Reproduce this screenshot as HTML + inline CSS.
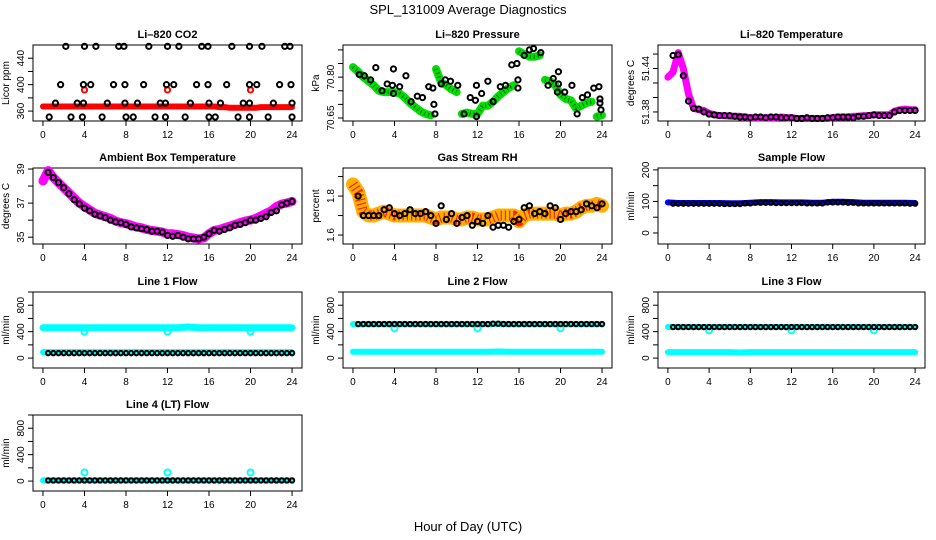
<!DOCTYPE html>
<html><head><meta charset="utf-8">
<style>
html,body{margin:0;padding:0;background:#fff;}
svg{display:block;font-family:"Liberation Sans",sans-serif;}
</style></head>
<body>
<svg id="chart" width="936" height="540" viewBox="0 0 936 540" xmlns="http://www.w3.org/2000/svg">
<text x="468" y="14" text-anchor="middle" font-size="13">SPL_131009  Average Diagnostics</text>
<text x="468" y="531" text-anchor="middle" font-size="13">Hour of Day (UTC)</text>
</svg>
<script>
// ---------- data ----------
const xTicks = [0,4,8,12,16,20,24];
const co2TopH = [2.2,4.0,5.1,7.3,7.8,10.2,12.0,13.1,15.3,15.9,18.2,19.9,21.1,23.3,23.8];
const co2MidH = [1.7,3.9,4.6,6.8,7.9,9.7,11.9,12.6,14.8,15.9,17.7,19.9,20.6,22.8,23.9];
const co2LowH = [1.2,3.3,3.9,6.2,7.9,9.1,11.3,11.8,14.2,16.0,17.1,19.3,19.9,22.2,24.0];
const co2BotH = [0.6,2.7,3.8,5.7,8.0,8.7,10.8,11.8,13.7,16.0,16.6,18.8,19.9,21.7,24.0];
const co2Levels = [458,400,372,351];
const co2Red = [367,367,367,367,367,367,367,367,367,367,367,367,367,367,367,367,367,367,367,367,367,367,367,367,367,367,367,367,367,367,367,367,367,367,366,366,365,365,365,365,365,365,366,366,366,366,366,366,366];
const co2RedOutH = [4,12,20];
const co2RedOutV = [392,392,392];

const presGreen = [70.837,70.82,70.80,70.785,70.77,70.75,70.745,70.745,70.745,70.74,70.725,70.705,70.69,70.675,70.665,70.66,70.83,70.78,70.77,70.755,70.745,70.665,70.67,70.665,70.665,70.695,70.695,70.71,70.73,70.745,70.76,70.77,70.895,70.885,70.875,70.875,70.88,70.79,70.785,70.77,70.735,70.72,70.715,70.685,70.695,70.705,70.71,70.655,70.66];
const presBlackH = [0.6,1.1,1.7,2.2,2.8,3.3,3.8,3.9,3.9,4.5,5.1,5.6,6.2,6.7,7.3,7.7,7.8,7.9,8.5,8.9,9.4,10.1,10.7,11.3,11.8,11.9,11.9,12.4,13.0,13.5,14.2,14.7,15.3,15.8,15.9,15.9,16.5,17.0,17.4,18.1,18.8,19.3,19.7,19.8,19.8,20.4,21.1,21.6,22.1,22.6,23.2,23.7,23.8,23.8,23.9];
const presBlackV = [70.81,70.805,70.79,70.835,70.75,70.775,70.77,70.83,70.74,70.765,70.805,70.71,70.73,70.725,70.765,70.76,70.70,70.665,70.775,70.79,70.785,70.77,70.665,70.725,70.715,70.655,70.77,70.74,70.785,70.71,70.765,70.77,70.845,70.85,70.79,70.76,70.88,70.90,70.905,70.89,70.77,70.795,70.745,70.775,70.82,70.745,70.77,70.665,70.725,70.735,70.76,70.765,70.72,70.705,70.68];

const tempMag = [51.428,51.435,51.462,51.44,51.405,51.385,51.383,51.382,51.378,51.376,51.375,51.375,51.374,51.374,51.374,51.373,51.372,51.372,51.372,51.372,51.372,51.372,51.373,51.372,51.372,51.371,51.371,51.371,51.371,51.371,51.371,51.371,51.372,51.373,51.373,51.373,51.374,51.374,51.375,51.375,51.376,51.376,51.376,51.376,51.381,51.383,51.384,51.383,51.383];
const tempBlack = [51.458,51.459,51.43,51.395,51.385,51.384,51.38,51.377,51.376,51.375,51.375,51.375,51.374,51.373,51.373,51.372,51.373,51.373,51.372,51.373,51.373,51.372,51.372,51.372,51.371,51.371,51.372,51.371,51.371,51.371,51.372,51.372,51.373,51.373,51.373,51.372,51.374,51.374,51.375,51.376,51.375,51.375,51.375,51.380,51.382,51.382,51.382,51.382];

const ambMag = [38.3,38.9,38.5,38.2,37.9,37.6,37.3,37.0,36.8,36.6,36.4,36.3,36.2,36.1,35.95,35.85,35.8,35.7,35.6,35.55,35.45,35.4,35.35,35.3,35.2,35.2,35.15,35.1,35.0,34.95,34.9,34.95,35.2,35.4,35.45,35.55,35.65,35.75,35.85,35.95,36.0,36.1,36.25,36.4,36.55,36.8,36.95,37.0,37.1];
const ambBlack = [38.8,38.5,38.2,37.9,37.55,37.2,36.95,36.7,36.55,36.35,36.25,36.15,36.0,35.9,35.85,35.75,35.6,35.55,35.5,35.45,35.35,35.35,35.3,35.1,35.05,35.1,35.0,34.9,34.9,34.9,35.0,35.2,35.4,35.35,35.45,35.55,35.7,35.75,35.85,36.0,36.0,36.1,36.2,36.45,36.55,36.9,37.0,37.1];

const rhBand = [1.86,1.82,1.72,1.70,1.70,1.71,1.72,1.71,1.70,1.70,1.70,1.70,1.70,1.70,1.70,1.69,1.68,1.69,1.69,1.69,1.68,1.68,1.69,1.69,1.68,1.68,1.68,1.69,1.70,1.70,1.70,1.70,1.67,1.70,1.71,1.71,1.71,1.71,1.71,1.71,1.70,1.71,1.71,1.72,1.74,1.75,1.75,1.76,1.75];
const rhBlack = [1.80,1.70,1.70,1.70,1.70,1.73,1.74,1.71,1.70,1.71,1.73,1.71,1.71,1.72,1.70,1.66,1.75,1.68,1.71,1.66,1.69,1.70,1.65,1.67,1.66,1.70,1.64,1.65,1.65,1.64,1.67,1.68,1.74,1.75,1.71,1.72,1.71,1.75,1.74,1.68,1.71,1.72,1.72,1.73,1.76,1.75,1.74,1.76];

const sampBlue = [97,95,95,95,95,95,94,94,96,98,98,97,97,97,96,96,99,99,98,96,96,96,96,96,95];
const sampBlack = [95,93,93,93,93,93,92,92,94,96,96,95,95,95,94,94,97,97,96,94,94,94,94,94,93];

const l1CyanTop = [460,460,460,460,460,460,460,460,460,460,460,460,460,460,470,460,460,460,460,460,460,460,460,460,460];
const l1CyanLow = [90,90,90,90,90,90,90,90,90,90,90,90,90,90,90,90,90,90,90,90,90,90,90,90,90];
const l1Black = [75,75,75,75,75,75,75,75,75,75,75,75,75,75,75,75,75,75,75,75,75,75,75,75,75];
const l2Black = [515,515,515,515,515,515,515,515,515,515,515,515,515,515,520,515,515,515,515,515,515,515,515,515,515];
const l2CyanLow = [95,95,95,95,95,95,95,95,95,95,95,95,95,95,100,95,95,95,95,95,95,95,95,95,95];
const l3Black = [470,470,470,470,470,470,470,470,470,470,470,470,470,470,470,470,470,470,470,470,470,470,470,470,470];
const l3CyanLow = [90,90,90,90,90,90,90,85,90,90,90,90,90,90,90,90,90,90,90,90,90,90,90,90,90];
const l4Black = [10,10,10,10,10,10,10,10,10,10,10,10,10,10,10,10,10,10,10,10,10,10,10,10,10];
const l4Cyan = [10,10,10,10,10,10,10,10,10,10,10,10,10,10,10,10,10,10,10,10,10,10,10,10,10];
const outH = [4,12,20];
const l1Out = [400,400,400];
const l2Out = [450,450,450];
const l3Out = [420,420,420];
const l4Out = [130,130,130];

// ---------- layout ----------
const svg = document.getElementById('chart');
const NS = 'http://www.w3.org/2000/svg';
const colX = [33,343,658], colW = [269,269,267];
const rowY = [45,168,292,415], boxH = 76;
const H49 = []; for (let i=0;i<=48;i++) H49.push(i*0.5);
const H48 = H49.slice(1);
const H25 = []; for (let i=0;i<=24;i++) H25.push(i);

function mk(tag, attrs, parent){
  const e = document.createElementNS(NS, tag);
  for (const k in attrs) e.setAttribute(k, attrs[k]);
  parent.appendChild(e);
  return e;
}

function makePanel(cfg){
  const bx = colX[cfg.col], by = rowY[cfg.row], bw = colW[cfg.col];
  const g = mk('g', {}, svg);
  
  
  const xs = h => bx + (h + 0.96) / 25.92 * bw;
  const ys = v => by + boxH - (v - cfg.ymin) / (cfg.ymax - cfg.ymin) * boxH;
  const t = mk('text', {x: bx + bw/2, y: by - 7, 'text-anchor':'middle', 'font-size':11, 'font-weight':'bold'}, g);
  t.textContent = cfg.title;
  
  
  const yl = mk('text', {transform:`translate(${bx-24},${by+boxH/2}) rotate(-90)`, 'text-anchor':'middle', 'font-size':10}, g);
  yl.textContent = cfg.ylab;
  
  
  const xa = mk('g', {}, g);
  
  
  mk('line', {x1: xs(0), x2: xs(24), y1: by+boxH, y2: by+boxH, stroke:'#000'}, xa);
  xTicks.forEach(v => {
    mk('line', {x1: xs(v), x2: xs(v), y1: by+boxH, y2: by+boxH+5, stroke:'#000'}, xa);
    const tl = mk('text', {x: xs(v), y: by+boxH+17, 'text-anchor':'middle', 'font-size':10}, xa);
    tl.textContent = v;
    
    
  });
  const ya = mk('g', {}, g);
  
  
  mk('line', {x1: bx, x2: bx, y1: ys(cfg.yticks[0]), y2: ys(cfg.yticks[cfg.yticks.length-1]), stroke:'#000'}, ya);
  cfg.yticks.forEach(v => {
    mk('line', {x1: bx-5, x2: bx, y1: ys(v), y2: ys(v), stroke:'#000'}, ya);
  });
  cfg.ylabels.forEach((v,i) => {
    const tl = mk('text', {transform:`translate(${bx-9},${ys(v)}) rotate(-90)`, 'text-anchor':'middle', 'font-size':10}, ya);
    tl.textContent = cfg.ylabelText[i];
    
    
  });
  const plot = mk('g', {}, g);
  
  
  mk('rect', {x: bx, y: by, width: bw, height: boxH, fill:'none', stroke:'#000'}, plot);
  return {g: plot, xs, ys};
}

function band(p, hs, vs, color, w, name){
  const pts = hs.map((h,i) => p.xs(h).toFixed(1) + ',' + p.ys(vs[i]).toFixed(1)).join(' ');
  const el = mk('polyline', {points: pts, fill:'none', stroke: color, 'stroke-width': w, 'stroke-linejoin':'round', 'stroke-linecap':'round'}, p.g);
  
  
  return el;
}
function pts(p, hs, vs, color, name, r, sw){
  hs.forEach((h,i) => {
    const c = mk('circle', {cx: p.xs(h), cy: p.ys(vs[i]), r: r || 2.6, fill:'none', stroke: color, 'stroke-width': sw || 2}, p.g);
    
    
  });
}
function bandSeg(p, hs, vs, color, w, name, breaks, dash){
  let segH = [], segV = [];
  const flush = () => {
    const e = band(p, segH, segV, color, w, name);
    if (dash) { e.setAttribute('stroke-dasharray', dash); e.setAttribute('stroke-linecap', 'butt'); }
  };
  hs.forEach((h,i) => {
    if (breaks.indexOf(h) >= 0 && segH.length) { flush(); segH = []; segV = []; }
    segH.push(h); segV.push(vs[i]);
  });
  if (segH.length) flush();
}

// CO2
let p = makePanel({id:'co2', title:'Li\u2013820 CO2', col:0, row:0, ymin:345, ymax:460, yticks:[360,380,400,420,440], ylabels:[360,400,440], ylabelText:['360','400','440'], ylab:'Licor ppm'});
band(p, H49, co2Red, '#ff0000', 6, 'co2-red-series');
pts(p, co2RedOutH, co2RedOutV, '#ff0000', 'co2-red-point');
pts(p, co2TopH, co2TopH.map(() => co2Levels[0]), '#000', 'co2-black-point');
pts(p, co2MidH, co2MidH.map(() => co2Levels[1]), '#000', 'co2-black-point');
pts(p, co2LowH, co2LowH.map(() => co2Levels[2]), '#000', 'co2-black-point');
pts(p, co2BotH, co2BotH.map(() => co2Levels[3]), '#000', 'co2-black-point');

// Pressure
p = makePanel({id:'pressure', title:'Li\u2013820 Pressure', col:1, row:0, ymin:70.639, ymax:70.918, yticks:[70.65,70.70,70.75,70.80,70.85,70.90], ylabels:[70.65,70.80], ylabelText:['70.65','70.80'], ylab:'kPa'});
bandSeg(p, H49, presGreen, '#00dd00', 8, 'pressure-green-series', [8,10.5,16,18.5,23.5]);
bandSeg(p, H49, presGreen, '#006600', 4, 'pressure-green-speckle', [8,10.5,16,18.5,23.5], '1 3');
pts(p, presBlackH, presBlackV, '#000', 'pressure-black-point');

// Li-820 temperature
p = makePanel({id:'li820-temp', title:'Li\u2013820 Temperature', col:2, row:0, ymin:51.3675, ymax:51.4725, yticks:[51.38,51.40,51.42,51.44,51.46], ylabels:[51.38,51.44], ylabelText:['51.38','51.44'], ylab:'degrees C'});
band(p, H49, tempMag, '#ff00ff', 7, 'li820-temp-magenta-series');
pts(p, H48, tempBlack, '#000', 'li820-temp-black-point');

// Ambient
p = makePanel({id:'ambient', title:'Ambient Box Temperature', col:0, row:1, ymin:34.6, ymax:39.06, yticks:[35,36,37,38,39], ylabels:[35,37,39], ylabelText:['35','37','39'], ylab:'degrees C'});
band(p, H49, ambMag, '#ff00ff', 9, 'ambient-magenta-series');
pts(p, H48, ambBlack, '#000', 'ambient-black-point');

// RH
p = makePanel({id:'rh', title:'Gas Stream RH', col:1, row:1, ymin:1.554, ymax:1.944, yticks:[1.6,1.7,1.8,1.9], ylabels:[1.6,1.8], ylabelText:['1.6','1.8'], ylab:'percent'});
band(p, H49, rhBand, '#ffb000', 14, 'rh-orange-series');
const rd = band(p, H49, rhBand, '#ff2000', 10, 'rh-red-speckle');
rd.setAttribute('stroke-dasharray', '1.2 3');
rd.setAttribute('stroke-linecap', 'butt');
pts(p, H48, rhBlack, '#000', 'rh-black-point');

// Sample flow
p = makePanel({id:'sample-flow', title:'Sample Flow', col:2, row:1, ymin:-35, ymax:206, yticks:[0,50,100,150,200], ylabels:[0,100,200], ylabelText:['0','100','200'], ylab:'ml/min'});
band(p, H25, sampBlue, '#0000ff', 6, 'sample-flow-blue-series');
pts(p, H25.slice(1), sampBlack.slice(1), '#000', 'sample-flow-black-point', 2.2);
pts(p, H25.slice(1).map(h=>h-0.5), sampBlack.slice(1), '#000', 'sample-flow-black-point', 2.2);

const flowCfg = {ymin:-150, ymax:1000, yticks:[0,200,400,600,800,1000], ylabels:[0,400,800], ylabelText:['0','400','800'], ylab:'ml/min'};
function flowPanel(id, title, col, row){ return makePanel(Object.assign({id, title, col, row}, flowCfg)); }
function flowBlack(p, vals, name){
  pts(p, H25.slice(1), vals.slice(1), '#000', name, 2.2);
  pts(p, H25.slice(1).map(h=>h-0.5), vals.slice(1), '#000', name, 2.2);
}
p = flowPanel('line1-flow', 'Line 1 Flow', 0, 2);
band(p, H25, l1CyanTop, '#00ffff', 7, 'line1-cyan-high-series');
band(p, H25, l1CyanLow, '#00ffff', 6, 'line1-cyan-low-series');
pts(p, outH, l1Out, '#00ffff', 'line1-cyan-outlier', 3);
flowBlack(p, l1Black, 'line1-black-point');
p = flowPanel('line2-flow', 'Line 2 Flow', 1, 2);
band(p, H25, l2Black, '#00ffff', 6, 'line2-cyan-high-series');
band(p, H25, l2CyanLow, '#00ffff', 6, 'line2-cyan-low-series');
pts(p, outH, l2Out, '#00ffff', 'line2-cyan-outlier', 3);
flowBlack(p, l2Black, 'line2-black-point');
p = flowPanel('line3-flow', 'Line 3 Flow', 2, 2);
band(p, H25, l3Black, '#00ffff', 6, 'line3-cyan-high-series');
band(p, H25, l3CyanLow, '#00ffff', 6, 'line3-cyan-low-series');
pts(p, outH, l3Out, '#00ffff', 'line3-cyan-outlier', 3);
flowBlack(p, l3Black, 'line3-black-point');
p = flowPanel('line4-flow', 'Line 4 (LT) Flow', 0, 3);
band(p, H25, l4Cyan, '#00ffff', 6, 'line4-cyan-series');
pts(p, outH, l4Out, '#00ffff', 'line4-cyan-outlier', 3);
flowBlack(p, l4Black, 'line4-black-point');
</script>
</body></html>
